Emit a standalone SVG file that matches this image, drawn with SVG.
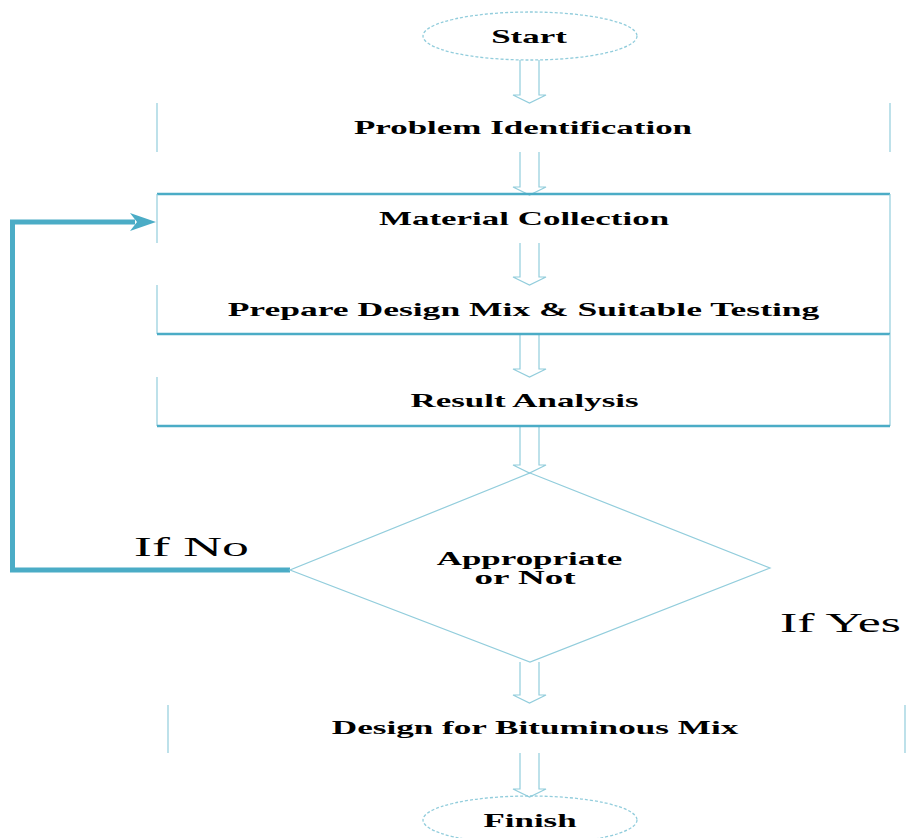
<svg xmlns="http://www.w3.org/2000/svg" width="906" height="838" viewBox="0 0 906 838">
<style>
.bg{fill:#ffffff}
.thin{fill:none;stroke:#92CDDC;stroke-width:1.2}
.dash{fill:none;stroke:#92CDDC;stroke-width:1.3;stroke-dasharray:3 2}
.teal{fill:none;stroke:#4BACC6;stroke-width:2.5}
.arrow{fill:#ffffff;stroke:#92CDDC;stroke-width:1.2}
.lbl{font-family:"Liberation Serif","Times New Roman",serif;font-weight:bold;font-size:19px;fill:#000;text-anchor:middle}
.big{font-family:"Liberation Serif","Times New Roman",serif;font-size:27px;fill:#000;text-anchor:middle}
.fb{fill:none;stroke:#4BACC6;stroke-width:5}
</style>
<rect class="bg" x="0" y="0" width="906" height="838"/>

<g id="connectors">
<path class="arrow" d="M520,60 V95 H513 L529.5,103 L546,95 H539 V60"/>
<path class="arrow" d="M520,152 V187 H513 L529.5,195 L546,187 H539 V152"/>
<path class="arrow" d="M520,243 V277 H513 L529.5,285 L546,277 H539 V243"/>
<path class="arrow" d="M520,334 V369 H513 L529.5,377 L546,369 H539 V334"/>
<path class="arrow" d="M520,426 V465 H513 L529.5,473 L546,465 H539 V426"/>
<path class="arrow" d="M520,662 V695 H513 L529.5,703 L546,695 H539 V662"/>
<path class="arrow" d="M520,753 V789 H513 L529.5,797 L546,789 H539 V753"/>
<path class="fb" d="M290,570 H12.5 V222 H135"/>
<path d="M130,213 L156,222 L130,231 L137,222 Z" fill="#4BACC6"/>
</g>

<g id="start">
<ellipse class="dash" cx="530" cy="36" rx="107" ry="24"/>
<text class="lbl" transform="matrix(1.84,0,0,1,529,43)">Start</text>
</g>

<g id="problem">
<line class="thin" x1="157" y1="103" x2="157" y2="152"/>
<line class="thin" x1="890" y1="103" x2="890" y2="152"/>
<text class="lbl" transform="matrix(1.84,0,0,1,523,134)">Problem Identification</text>
</g>

<g id="material">
<line class="teal" x1="157" y1="194" x2="890" y2="194"/>
<line class="thin" x1="157" y1="194" x2="157" y2="243"/>
<line class="thin" x1="890" y1="194" x2="890" y2="334"/>
<text class="lbl" transform="matrix(1.84,0,0,1,524,225)">Material Collection</text>
</g>

<g id="prepare">
<line class="thin" x1="157" y1="285" x2="157" y2="334"/>
<line class="teal" x1="157" y1="334" x2="890" y2="334"/>
<text class="lbl" transform="matrix(1.87,0,0,1,523.5,316)">Prepare Design Mix &amp; Suitable Testing</text>
</g>

<g id="result">
<line class="thin" x1="157" y1="377" x2="157" y2="426"/>
<line class="thin" x1="890" y1="334" x2="890" y2="426"/>
<line class="teal" x1="157" y1="426" x2="890" y2="426"/>
<text class="lbl" transform="matrix(1.84,0,0,1,524.5,407)">Result Analysis</text>
</g>

<g id="decision">
<polygon class="thin" points="530,473 770,568 530,662 290,570"/>
<text class="lbl" transform="matrix(1.84,0,0,1,529.5,565)">Appropriate</text>
<text class="lbl" transform="matrix(1.95,0,0,1,525,584)">or Not</text>
</g>

<g id="labels">
<text class="big" transform="matrix(1.99,0,0,1,191.5,556)">If No</text>
<text class="big" transform="matrix(1.92,0,0,1,840.5,632)">If Yes</text>
</g>

<g id="design">
<line class="thin" x1="168" y1="705" x2="168" y2="753"/>
<line class="thin" x1="905" y1="705" x2="905" y2="753"/>
<text class="lbl" transform="matrix(1.85,0,0,1,535,734)">Design for Bituminous Mix</text>
</g>

<g id="finish">
<ellipse class="dash" cx="530" cy="820" rx="107" ry="24"/>
<text class="lbl" transform="matrix(1.84,0,0,1,530,827)">Finish</text>
</g>
</svg>
